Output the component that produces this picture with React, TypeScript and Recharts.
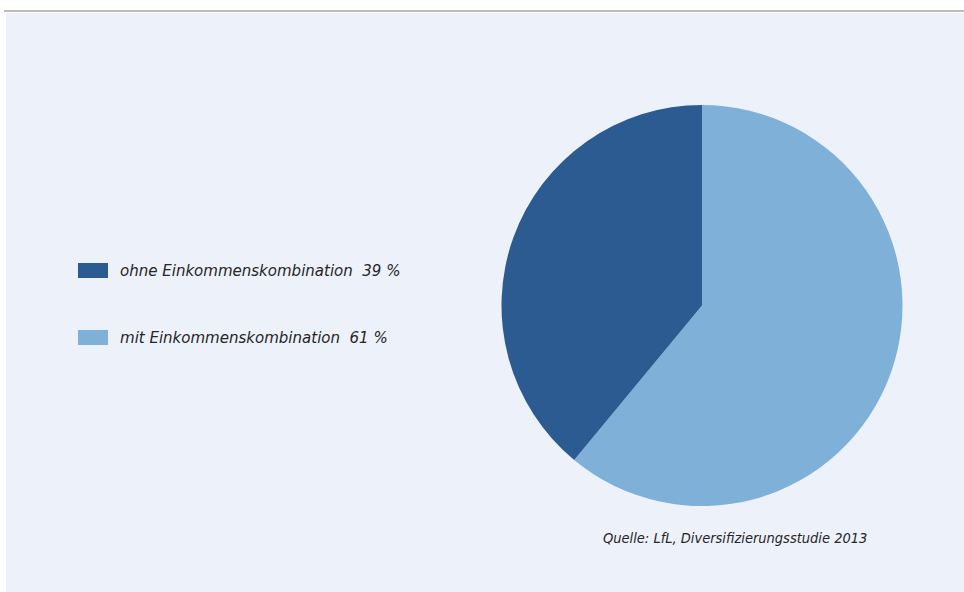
import React from 'react';
import { PieChart, Pie, Cell, Legend } from 'recharts';

const categories = ['mit Einkommenskombination', 'ohne Einkommenskombination'];
const values = [61, 39];
const colors = ['#7eb0d8', '#2c5b91'];
const legendOrder = ['ohne Einkommenskombination', 'mit Einkommenskombination'];
const sourceText = 'Quelle: LfL, Diversifizierungsstudie 2013';

const data = categories.map((name, i) => ({ name, value: values[i], color: colors[i] }));

const FONT = '"Liberation Sans Narrow", "DejaVu Sans Condensed", "Roboto", sans-serif';

const LegendContent = () => (
  <div style={{ fontFamily: FONT, fontStyle: 'italic', fontSize: 16.7, color: '#262626' }}>
    {legendOrder.map((name, i) => {
      const d = data.find((x) => x.name === name)!;
      return (
        <div
          key={name}
          style={{ display: 'flex', alignItems: 'center', height: 16, marginBottom: i === 0 ? 51 : 0 }}
        >
          <div style={{ width: 30, height: 15, background: d.color, marginRight: 12, flexShrink: 0 }} />
          <span style={{ whiteSpace: 'pre' }}>{`${d.name}  ${d.value} %`}</span>
        </div>
      );
    })}
  </div>
);

export default function App() {
  return (
    <div style={{ position: 'absolute', left: 0, top: 0, width: 964, height: 592, background: '#ffffff' }}>
      <div style={{ position: 'absolute', left: 4, top: 10, width: 960, height: 2, background: '#b9bdb9' }} />
      <div style={{ position: 'absolute', left: 6, top: 13, width: 958, height: 579, background: '#edf1fa' }} />
      <div style={{ position: 'absolute', left: 0, top: 0 }}>
        <PieChart width={964} height={592} margin={{ top: 0, right: 0, bottom: 0, left: 0 }}>
          <Pie
            data={data}
            dataKey="value"
            nameKey="name"
            cx={702}
            cy={305.5}
            outerRadius={200.5}
            innerRadius={0}
            startAngle={90}
            endAngle={-270}
            stroke="none"
            isAnimationActive={false}
          >
            {data.map((d) => (
              <Cell key={d.name} fill={d.color} />
            ))}
          </Pie>
          <Legend
            content={<LegendContent />}
            layout="horizontal"
            verticalAlign="middle"
            align="center"
            wrapperStyle={{ left: 78, top: 262, width: 380 }}
          />
          <text
            x={603}
            y={543}
            fontFamily={FONT}
            fontStyle="italic"
            fontSize={14.5}
            fill="#262626"
          >
            {sourceText}
          </text>
        </PieChart>
      </div>
    </div>
  );
}
